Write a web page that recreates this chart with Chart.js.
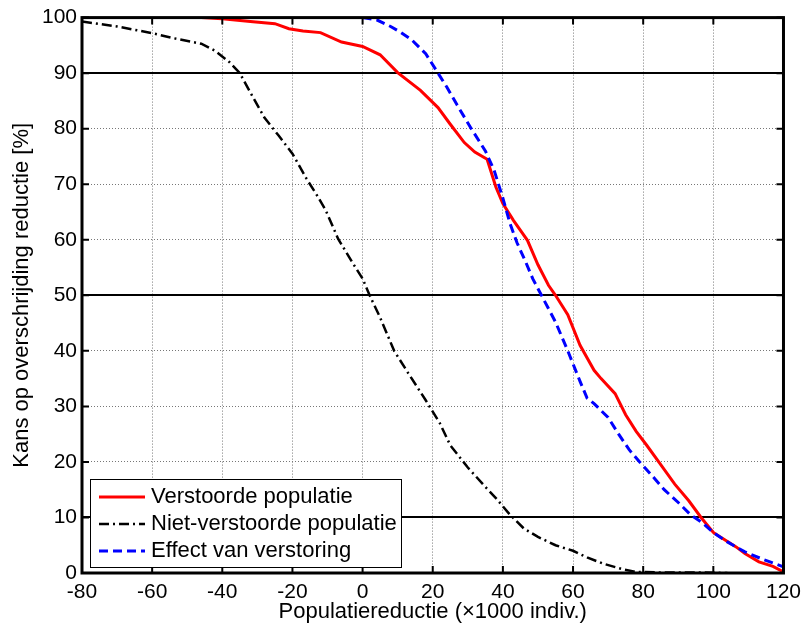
<!DOCTYPE html>
<html>
<head>
<meta charset="utf-8">
<script src="https://cdn.jsdelivr.net/npm/chart.js@4/dist/chart.umd.min.js"></script>
<style>
  html, body { margin: 0; padding: 0; background: #fff; }
</style>
</head>
<body>
<canvas id="chart" width="808" height="628"></canvas>
<script>
// values
const xTicks = [-80, -60, -40, -20, 0, 20, 40, 60, 80, 100, 120]
const yTicks = [0, 10, 20, 30, 40, 50, 60, 70, 80, 90, 100]
const solidLevels = [10, 50, 90]

const labels = ['Verstoorde populatie', 'Niet-verstoorde populatie', 'Effect van verstoring']

const verstoordX = [-46, -40, -32, -25, -21, -17, -12, -6, 0, 5, 10, 16.5, 21.5, 25, 29, 32, 35.5, 38, 40, 43, 47, 50, 53, 55, 58.5, 62, 66, 68, 72, 75, 78, 81, 85, 89, 93, 96.5, 100, 102, 106.5, 109, 113, 117, 120]
const verstoordY = [100, 99.8, 99.3, 98.9, 98, 97.6, 97.3, 95.6, 94.8, 93.3, 90.1, 86.9, 83.8, 80.8, 77.5, 75.8, 74.5, 69.5, 66.5, 63.5, 59.9, 55.5, 51.8, 50, 46.5, 41, 36.5, 35, 32.3, 28.5, 25.5, 23, 19.5, 16, 13, 10, 7.3, 6.5, 4.7, 3.5, 2, 1.2, 0.2]

const nietVerstoordX = [-80, -70, -60, -54, -46, -42, -38, -35, -32, -28, -24, -20, -16, -13, -10.5, -7, -3, 0, 2, 5, 9, 13, 18, 22, 25, 30, 35, 38, 42, 46, 50, 55, 60, 64, 69, 74, 78, 85, 95, 104]
const nietVerstoordY = [99.3, 98.4, 97.2, 96.3, 95.3, 94, 92, 90, 86.5, 82, 78.8, 75.5, 71, 68, 65.3, 60.2, 56, 53, 50, 46, 40, 36, 31.1, 27, 23, 19, 15.5, 13.5, 10.5, 8, 6.5, 5, 4, 2.8, 1.6, 0.7, 0.2, 0.1, 0.1, 0]

const effectX = [0, 4, 8, 11, 14, 18, 21.5, 24, 27, 31, 35, 37.5, 40, 42, 44, 46.5, 48.5, 51, 55, 58.5, 62, 64, 66, 70, 73, 76, 79, 83, 86, 90, 93.5, 97, 100, 104, 109, 114, 120]
const effectY = [100, 99.6, 98.4, 97.3, 96, 93.5, 90, 87.5, 84.2, 80, 76, 72.5, 67.5, 63, 59.5, 56, 53, 50, 45.2, 40, 34.5, 31.5, 30.5, 28, 25, 22.2, 20, 17.2, 15, 12.7, 10.5, 9, 7.3, 5.6, 3.8, 2.5, 1.1]

const toPoints = (xs, ys) => xs.map((x, i) => ({ x: x, y: ys[i] }))

const font = 'Liberation Sans, Arial, Helvetica, sans-serif'

const isSolid = (c) => c.tick && solidLevels.includes(c.tick.value)

// MATLAB style: black box, inward ticks on all four sides
const boxPlugin = {
  id: 'matlabBox',
  afterDatasetsDraw (chart) {
    const { ctx, chartArea: a, scales } = chart
    ctx.save()
    ctx.strokeStyle = '#000'
    ctx.lineWidth = 2
    ctx.beginPath()
    xTicks.forEach(v => {
      const px = scales.x.getPixelForValue(v)
      ctx.moveTo(px, a.bottom); ctx.lineTo(px, a.bottom - 7)
      ctx.moveTo(px, a.top); ctx.lineTo(px, a.top + 7)
    })
    yTicks.forEach(v => {
      const py = scales.y.getPixelForValue(v)
      ctx.moveTo(a.left, py); ctx.lineTo(a.left + 7, py)
      ctx.moveTo(a.right, py); ctx.lineTo(a.right - 7, py)
    })
    ctx.stroke()
    ctx.lineWidth = 3
    ctx.strokeRect(a.left, a.top, a.right - a.left, a.bottom - a.top)
    ctx.restore()
  }
}

const legendPlugin = {
  id: 'boxLegend',
  afterDraw (chart) {
    const { ctx, chartArea: a } = chart
    const left = a.left + 8
    const bottom = a.bottom - 6
    const w = 311
    const h = 88
    ctx.save()
    ctx.fillStyle = '#fff'
    ctx.fillRect(left, bottom - h, w, h)
    ctx.strokeStyle = '#000'
    ctx.lineWidth = 1
    ctx.strokeRect(left + 0.5, bottom - h + 0.5, w, h)
    ctx.font = '22px ' + font
    ctx.textBaseline = 'middle'
    ctx.textAlign = 'left'
    chart.data.datasets.forEach((ds, row) => {
      const y = bottom - h + 18 + row * 27
      ctx.strokeStyle = ds.borderColor
      ctx.lineWidth = ds.borderWidth
      ctx.setLineDash(ds.borderDash || [])
      ctx.beginPath()
      ctx.moveTo(left + 9, y)
      ctx.lineTo(left + 55, y)
      ctx.stroke()
      ctx.setLineDash([])
      ctx.fillStyle = '#000'
      ctx.fillText(ds.label, left + 61, y)
    })
    ctx.restore()
  }
}

const chart = new Chart(document.getElementById('chart'), {
  type: 'line',
  data: {
    datasets: [
      {
        label: labels[0],
        data: toPoints(verstoordX, verstoordY),
        borderColor: '#ff0000',
        borderWidth: 3,
        order: 2
      },
      {
        label: labels[1],
        data: toPoints(nietVerstoordX, nietVerstoordY),
        borderColor: '#000000',
        borderWidth: 2.5,
        borderDash: [10, 4, 2, 4],
        order: 1
      },
      {
        label: labels[2],
        data: toPoints(effectX, effectY),
        borderColor: '#0000ff',
        borderWidth: 3,
        borderDash: [9, 5],
        order: 0
      }
    ]
  },
  options: {
    responsive: false,
    animation: false,
    layout: { padding: { top: 17, right: 21, left: 0, bottom: 0 } },
    elements: {
      point: { radius: 0 },
      line: { tension: 0, fill: false }
    },
    plugins: {
      legend: { display: false },
      tooltip: { enabled: false }
    },
    scales: {
      x: {
        type: 'linear',
        min: -80,
        max: 120,
        afterFit: (s) => { s.height = 55 },
        afterBuildTicks: (s) => { s.ticks = xTicks.map(v => ({ value: v })) },
        ticks: {
          color: '#000',
          font: { family: font, size: 21 },
          padding: 7,
          maxRotation: 0,
          autoSkip: false
        },
        grid: { color: '#777', lineWidth: 1, drawTicks: false },
        border: { display: false, dash: [1, 2] },
        title: {
          display: true,
          text: 'Populatiereductie (\u00d71000 indiv.)',
          color: '#000',
          font: { family: font, size: 22 },
          padding: { top: 0, bottom: 3 }
        }
      },
      y: {
        type: 'linear',
        min: 0,
        max: 100,
        afterFit: (s) => { s.width = 82 },
        afterBuildTicks: (s) => { s.ticks = yTicks.map(v => ({ value: v })) },
        ticks: {
          color: '#000',
          font: { family: font, size: 21 },
          padding: 5
        },
        grid: {
          color: c => isSolid(c) ? '#000' : '#777',
          lineWidth: c => isSolid(c) ? 2 : 1,
          drawTicks: false
        },
        border: { display: false, dash: c => isSolid(c) ? [] : [1, 2] },
        title: {
          display: true,
          text: 'Kans op overschrijding reductie [%]',
          color: '#000',
          font: { family: font, size: 22 },
          padding: { top: 9, bottom: 0 }
        }
      }
    }
  },
  plugins: [boxPlugin, legendPlugin]
})
</script>
</body>
</html>
